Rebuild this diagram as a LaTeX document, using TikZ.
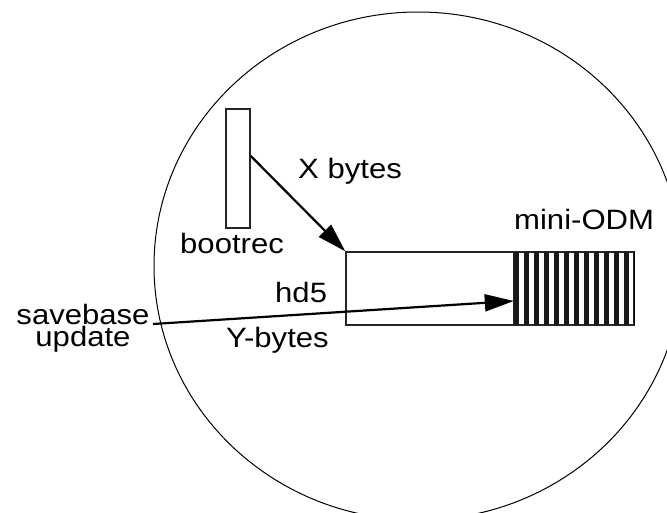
\documentclass[tikz,border=0pt]{standalone}
\usepackage{fontspec}
\setmainfont{Liberation Sans}[FakeStretch=1.11]
\usetikzlibrary{arrows.meta,calc}
\begin{document}
\begin{tikzpicture}[x=1pt,y=-1pt,
  lbl/.style={inner sep=0pt,font=\fontsize{28}{22}\selectfont},
  boxst/.style={draw=black!85,line width=1.3pt,inner sep=0pt},
  arr/.style={line width=2.2pt,-{Triangle[length=29pt,width=17pt]}},
  stripe/.style={fill=black!90}]
\useasboundingbox (0,0) rectangle (667,512);
\clip (0,0) rectangle (667,512);
% disk
\draw[line width=1pt] (418,266) ellipse [x radius=264, y radius=254];
% boxes
\node[boxst,minimum width=24pt,minimum height=119pt] (boot) at (238,168.5) {};
\node[boxst,minimum width=288pt,minimum height=73pt] (hd) at (490,288.5) {};
\node[inner sep=0pt,minimum width=120pt,minimum height=73pt] (odm) at (574,288.5) {};
\foreach \k in {0,...,11}{
  \fill[stripe] (514+10*\k,252) rectangle (518.5+10*\k,325);
}
\draw[black!85,line width=1.3pt] (odm.north west) -- (odm.south west);
\draw[black,line width=1.3pt] (hd.north east) -- (hd.south east);
% labels
\node[lbl,anchor=base west] (xb) at (298,178) {X bytes};
\node[lbl,anchor=base west] (bt) at (180,253) {bootrec};
\node[lbl,anchor=base west] (mo) at (514,229) {mini-ODM};
\node[lbl,anchor=base west] (h5) at (275,302) {hd5};
\node[lbl,anchor=north,align=center] (sb) at (83,304.5) {savebase\\update};
\node[lbl,anchor=base west] (yb) at (226,347) {Y-bytes};
% arrows
\coordinate (xs) at ($(boot.north east)!0.395!(boot.south east)$);
\draw[arr] (xs) -- (hd.north west);
\coordinate (ys) at (153,324);
\draw[arr] (ys) -- ($(odm.north west)!0.67!(odm.south west)$);
\end{tikzpicture}
\end{document}
